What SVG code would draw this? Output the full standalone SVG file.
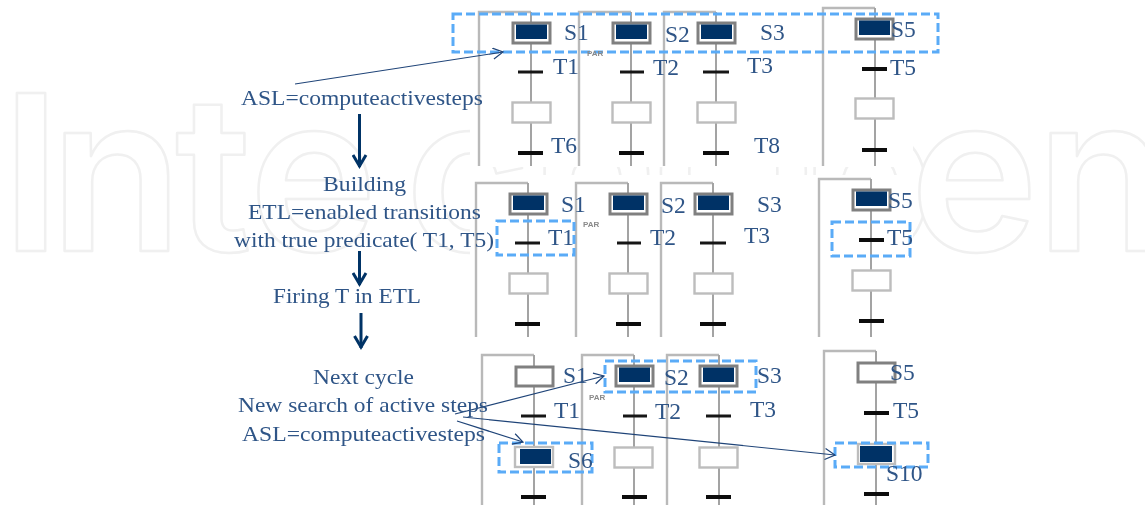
<svg xmlns="http://www.w3.org/2000/svg" xmlns:xlink="http://www.w3.org/1999/xlink" width="1145" height="505" viewBox="0 0 1145 505">
<style>
.wm{font-family:"Inter","Liberation Sans",sans-serif;font-size:217px;font-weight:600;fill:#fff;stroke:#f0f0f0;stroke-width:2.5;stroke-linejoin:round}
.lb{font-family:"Liberation Serif",serif;font-size:23.5px;fill:#2f5587}
.tx{font-family:"Liberation Serif",serif;font-size:22px;fill:#2f5587}
.par{font-family:"Liberation Sans",sans-serif;font-size:8px;font-weight:bold;fill:#8a8a8a}
.rail{fill:none;stroke:#b9b9b9;stroke-width:2.4}
.stem{fill:none;stroke:#a3a3a3;stroke-width:2}
.bar{stroke:#141414;stroke-width:3}
.bar2{stroke:#0c0c0c;stroke-width:4}
.hi{fill:none;stroke:#5aabf7;stroke-width:3;stroke-dasharray:9 4}
.st{fill:#fff;stroke:#bdbdbd;stroke-width:2.4}
.ol{fill:#fff;stroke:#808080;stroke-width:3}
.nv{fill:#003366}
.thin{fill:none;stroke:#1f4478;stroke-width:1.2;marker-end:url(#open)}
.flow{fill:none;stroke:#003366;stroke-width:3;marker-end:url(#chev)}
</style>
<defs>
<marker id="open" markerUnits="userSpaceOnUse" markerWidth="16" markerHeight="16" refX="11" refY="6" orient="auto"><path d="M1,0.5 L11,6 L1,11.5" fill="none" stroke="#1f4478" stroke-width="1.2"/></marker>
<marker id="chev" markerUnits="userSpaceOnUse" markerWidth="18" markerHeight="16" refX="13" refY="8" orient="auto"><path d="M1,1.5 L12,8 L1,14.5" fill="none" stroke="#003366" stroke-width="3"/></marker>
<filter id="soft" x="-5%" y="-5%" width="110%" height="110%"><feGaussianBlur stdDeviation="0.45"/></filter>
<g id="act"><rect class="ol" x="1" y="1" width="37" height="20"/><rect class="nv" x="4" y="2.500" width="31" height="14.500"/></g>
<g id="emp"><rect class="st" x="0.500" y="0.500" width="38" height="20"/></g>
<g id="col">
<path class="rail" d="M0,154V0H52"/><path class="stem" d="M52,0V154"/>
</g>
<g id="colB">
<path class="rail" d="M0,158V0H52"/><path class="stem" d="M52,0V158"/>
</g>
</defs>

<rect width="1145" height="505" fill="#fff"/>
<g id="watermark"><text class="wm" x="1 50 175 249 405 530 650 800 910 1036" y="251">IntechOpen</text>
<rect x="470" y="0" width="443" height="167" fill="#fff"/>
<rect x="470" y="175" width="443" height="175" fill="#fff"/></g>

<g id="row1" filter="url(#soft)">
<g id="r1-col1"><use xlink:href="#col" x="479" y="12"/><use xlink:href="#act" x="512" y="22"/><line class="bar" x1="518" x2="543" y1="72" y2="72"/><use xlink:href="#emp" x="512" y="102"/><line class="bar2" x1="518" x2="543" y1="153" y2="153"/></g>
<g id="r1-col2"><use xlink:href="#col" x="579" y="12"/><use xlink:href="#act" x="612" y="22"/><line class="bar" x1="620" x2="644" y1="72" y2="72"/><use xlink:href="#emp" x="612" y="102"/><line class="bar2" x1="619" x2="644" y1="153" y2="153"/></g>
<g id="r1-col3"><use xlink:href="#col" x="664" y="12"/><use xlink:href="#act" x="697" y="22"/><line class="bar" x1="703" x2="729" y1="72" y2="72"/><use xlink:href="#emp" x="697" y="102"/><line class="bar2" x1="703" x2="729" y1="153" y2="153"/></g>
<g id="r1-col4"><use xlink:href="#colB" x="823" y="8"/><use xlink:href="#act" x="855" y="18"/><line class="bar2" x1="862" x2="887" y1="69" y2="69"/><use xlink:href="#emp" x="855" y="98"/><line class="bar2" x1="862" x2="887" y1="150" y2="150"/></g>
</g>
<g id="row2" filter="url(#soft)">
<g id="r2-col1"><use xlink:href="#col" x="476" y="183"/><use xlink:href="#act" x="509" y="193"/><line class="bar" x1="515" x2="540" y1="243" y2="243"/><use xlink:href="#emp" x="509" y="273"/><line class="bar2" x1="515" x2="540" y1="324" y2="324"/></g>
<g id="r2-col2"><use xlink:href="#col" x="576" y="183"/><use xlink:href="#act" x="609" y="193"/><line class="bar" x1="617" x2="641" y1="243" y2="243"/><use xlink:href="#emp" x="609" y="273"/><line class="bar2" x1="616" x2="641" y1="324" y2="324"/></g>
<g id="r2-col3"><use xlink:href="#col" x="661" y="183"/><use xlink:href="#act" x="694" y="193"/><line class="bar" x1="700" x2="726" y1="243" y2="243"/><use xlink:href="#emp" x="694" y="273"/><line class="bar2" x1="700" x2="726" y1="324" y2="324"/></g>
<g id="r2-col4"><use xlink:href="#colB" x="819" y="179"/><use xlink:href="#act" x="852" y="189"/><line class="bar2" x1="859" x2="884" y1="240" y2="240"/><use xlink:href="#emp" x="852" y="270"/><line class="bar2" x1="859" x2="884" y1="321" y2="321"/></g>
</g>
<g id="row3" filter="url(#soft)">
<g id="r3-col1"><use xlink:href="#col" x="482" y="355"/><rect class="ol" x="516" y="367" width="37" height="19"/><line class="bar" x1="521" x2="546" y1="416" y2="416"/><rect class="st" x="515" y="447" width="38" height="20"/><rect class="nv" x="520" y="449" width="31" height="15"/><line class="bar2" x1="521" x2="546" y1="497" y2="497"/></g>
<g id="r3-col2"><use xlink:href="#col" x="582" y="355"/><use xlink:href="#act" x="615" y="365"/><line class="bar" x1="623" x2="647" y1="416" y2="416"/><use xlink:href="#emp" x="614" y="447"/><line class="bar2" x1="622" x2="647" y1="497" y2="497"/></g>
<g id="r3-col3"><use xlink:href="#col" x="667" y="355"/><use xlink:href="#act" x="699" y="365"/><line class="bar" x1="706" x2="731" y1="416" y2="416"/><use xlink:href="#emp" x="699" y="447"/><line class="bar2" x1="706" x2="731" y1="497" y2="497"/></g>
<g id="r3-col4"><use xlink:href="#colB" x="824" y="351"/><rect class="ol" x="858" y="363" width="37" height="19"/><line class="bar2" x1="864" x2="889" y1="413" y2="413"/><rect class="st" x="858" y="444" width="37" height="20"/><rect class="nv" x="860" y="446" width="32" height="16"/><line class="bar2" x1="864" x2="889" y1="494" y2="494"/></g>
</g>

<g id="highlights">
<rect class="hi" x="453" y="14" width="485" height="38"/>
<rect class="hi" x="497" y="221" width="77" height="34"/>
<rect class="hi" x="832" y="222" width="78" height="34"/>
<rect class="hi" x="605" y="361" width="151" height="31"/>
<rect class="hi" x="499" y="443" width="93" height="29"/>
<rect class="hi" x="835" y="443" width="93" height="24"/>
</g>

<g id="connectors">
<path class="thin" d="M295,84L503,52"/>
<path class="thin" d="M455,414L604,376"/>
<path class="thin" d="M457,421L523,442"/>
<path class="thin" d="M463,417L835,455"/>
<path class="flow" d="M359.500,114V167"/>
<path class="flow" d="M359.500,251V285"/>
<path class="flow" d="M361,313V348"/>
</g>

<g id="labels">
<text class="lb" x="564" y="40">S1</text><text class="lb" x="665" y="42">S2</text><text class="lb" x="760" y="40">S3</text><text class="lb" x="891" y="37">S5</text>
<text class="lb" x="553" y="74">T1</text><text class="lb" x="653" y="75">T2</text><text class="lb" x="747" y="73">T3</text><text class="lb" x="890" y="75">T5</text>
<text class="lb" x="551" y="153">T6</text><text class="lb" x="754" y="153">T8</text>
<text class="par" x="587" y="56">PAR</text>
<text class="lb" x="561" y="212">S1</text><text class="lb" x="661" y="213">S2</text><text class="lb" x="757" y="212">S3</text><text class="lb" x="888" y="208">S5</text>
<text class="lb" x="548" y="245">T1</text><text class="lb" x="650" y="245">T2</text><text class="lb" x="744" y="243">T3</text><text class="lb" x="887" y="245">T5</text>
<text class="par" x="583" y="227">PAR</text>
<text class="lb" x="563" y="383">S1</text><text class="lb" x="664" y="385">S2</text><text class="lb" x="757" y="383">S3</text><text class="lb" x="890" y="380">S5</text>
<text class="lb" x="554" y="418">T1</text><text class="lb" x="655" y="419">T2</text><text class="lb" x="750" y="417">T3</text><text class="lb" x="893" y="418">T5</text>
<text class="lb" x="568" y="468">S6</text><text class="lb" x="886" y="481">S10</text>
<text class="par" x="589" y="400">PAR</text>

<text class="tx" x="241" y="105" textLength="242" lengthAdjust="spacingAndGlyphs">ASL=computeactivesteps</text>
<text class="tx" x="323" y="191" textLength="83" lengthAdjust="spacingAndGlyphs">Building</text>
<text class="tx" x="248" y="219" textLength="233" lengthAdjust="spacingAndGlyphs">ETL=enabled transitions</text>
<text class="tx" x="234" y="247" textLength="260" lengthAdjust="spacingAndGlyphs">with true predicate( T1, T5)</text>
<text class="tx" x="273" y="303" textLength="148" lengthAdjust="spacingAndGlyphs">Firing T in ETL</text>
<text class="tx" x="313" y="384" textLength="101" lengthAdjust="spacingAndGlyphs">Next cycle</text>
<text class="tx" x="238" y="412" textLength="250" lengthAdjust="spacingAndGlyphs">New search of active steps</text>
<text class="tx" x="242" y="441" textLength="243" lengthAdjust="spacingAndGlyphs">ASL=computeactivesteps</text>
</g>
</svg>
